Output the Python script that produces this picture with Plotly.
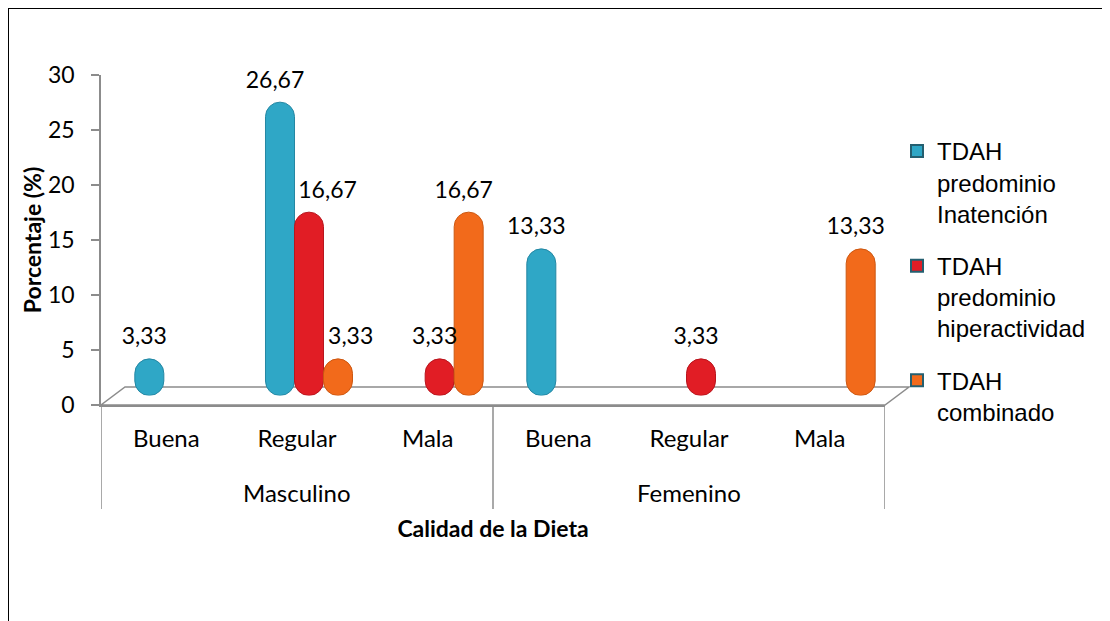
import plotly.graph_objects as go

# ---------------- data ----------------
genders = ["Masculino", "Femenino"]
dieta = ["Buena", "Regular", "Mala"]
series_names = [
    "TDAH<br>predominio<br>Inatención",
    "TDAH<br>predominio<br>hiperactividad",
    "TDAH<br>combinado",
]
inatencion = [3.33, 26.67, None, 13.33, None, None]
hiperactividad = [None, 16.67, 3.33, None, 3.33, None]
combinado = [None, 3.33, 16.67, None, None, 13.33]
y_ticks = [0, 5, 10, 15, 20, 25, 30]

series_values = [inatencion, hiperactividad, combinado]
colors = ["#2FA7C6", "#E11D25", "#F26A1B"]
edge_colors = ["#2587A3", "#B8161E", "#CC5812"]

outer = [g for g in genders for d in dieta]
inner = [d for g in genders for d in dieta]
n_cat = len(inner)

# label nudges (non-breaking-space padding), keyed by (series, point)
label_pad = {(1, 1): 8, (2, 1): 6}

# ---------------- layout geometry (screen pixels) ----------------
W, H = 1110, 621
PAGE_OFF = 8                        # default body margin of the html page
AX_L, AX_R, AX_T, AX_B = 101, 885, 75, 405
DEPTH_X, DEPTH_Y = 24, 18          # back edge of the floor
BAR_DX, BAR_DY = 12, 9.5           # bars at mid depth
LBL_DX, LBL_DY = 7, 16             # label plane
PLOT_R = AX_R + BAR_DX
PLOT_T = AX_T - LBL_DY
PW = PLOT_R - AX_L
PH = AX_B - PLOT_T


def xd(s):
    return [s / PW, (AX_R - AX_L + s) / PW]


def yd(s):
    return [s / PH, (AX_B - AX_T + s) / PH]


def xp(px):
    return (px - AX_L) / PW


def yp(py):
    return (AX_B - py) / PH


CAL = "Lato"
ARIAL = "Liberation Sans"
GREY = "#8C8C8C"


def fmt(v):
    return "" if v is None else f"{v:.2f}".replace(".", ",")


fig = go.Figure()

for i, (vals, col, ecol, name) in enumerate(
        zip(series_values, colors, edge_colors, series_names)):
    base = [None if v is None else 0 for v in vals]
    fig.add_trace(go.Bar(
        x=[outer, inner], y=vals, base=base, offsetgroup=str(i),
        marker=dict(color=col, cornerradius="50%",
                    line=dict(width=1, color=ecol)),
        showlegend=False, hoverinfo="skip", xaxis="x2", yaxis="y2",
    ))
    # legend entry
    fig.add_trace(go.Bar(
        x=[[outer[0]], [inner[0]]], y=[None], offsetgroup=str(i), name=name,
        legendgroup=str(i),
        marker=dict(color=col, line=dict(color="#245F70", width=2)),
        xaxis="x2", yaxis="y2",
    ))
    # data labels
    texts = []
    for j, v in enumerate(vals):
        t = fmt(v)
        if t and (i, j) in label_pad:
            t = "\u00a0" * label_pad[(i, j)] + t
        texts.append(t)
    fig.add_trace(go.Bar(
        x=[outer, inner], y=vals, text=texts, textposition="outside",
        constraintext="none", cliponaxis=False, offsetgroup=str(i),
        marker=dict(color="rgba(0,0,0,0)",
                    line=dict(width=0, color="rgba(0,0,0,0)")),
        textfont=dict(family=CAL, size=23, color="black"),
        showlegend=False, hoverinfo="skip", xaxis="x3", yaxis="y3",
    ))

shapes = [
    # outer frame
    dict(type="rect", xref="paper", yref="paper",
         x0=xp(8), x1=xp(1125), y0=yp(640), y1=yp(8),
         line=dict(color="black", width=2), layer="below"),
    # floor
    dict(type="path", xref="paper", yref="paper", layer="below",
         path=(f"M {xp(AX_L)},{yp(AX_B)} L {xp(AX_R)},{yp(AX_B)} "
               f"L {xp(AX_R + DEPTH_X)},{yp(AX_B - DEPTH_Y)} "
               f"L {xp(AX_L + DEPTH_X)},{yp(AX_B - DEPTH_Y)} Z"),
         line=dict(color=GREY, width=1.5)),
]
# group dividers of the two-level category axis
for k in range(len(genders) + 1):
    xb = k * len(dieta) - 0.5
    shapes.append(dict(type="line", xref="x", yref="paper", layer="below",
                       x0=xb, x1=xb, y0=yp(AX_B), y1=yp(509),
                       line=dict(color=GREY, width=1.5)))

annotations = []
for k, g in enumerate(genders):
    xc = k * len(dieta) + (len(dieta) - 1) / 2
    annotations.append(dict(x=xc, xref="x", y=yp(492), yref="paper",
                            text=g, showarrow=False, yanchor="middle",
                            font=dict(family=CAL, size=24, color="black")))

fig.update_layout(
    width=W, height=H,
    margin=dict(l=AX_L - PAGE_OFF, r=W - (PLOT_R - PAGE_OFF),
                t=PLOT_T - PAGE_OFF, b=H - (AX_B - PAGE_OFF), autoexpand=False),
    paper_bgcolor="white", plot_bgcolor="rgba(0,0,0,0)",
    barmode="group", bargap=0.334, bargroupgap=0,
    shapes=shapes, annotations=annotations,
    showlegend=True,
    legend=dict(
        x=xp(897), y=yp(129), xanchor="left", yanchor="top",
        font=dict(family=ARIAL, size=24, color="black"),
        traceorder="grouped", tracegroupgap=18, valign="top",
        bgcolor="rgba(0,0,0,0)",
    ),
    xaxis=dict(
        domain=xd(0), anchor="y", range=[-0.5, n_cat - 0.5],
        tickvals=list(range(n_cat)), ticktext=inner,
        showline=True, linecolor=GREY, linewidth=1.5, ticks="",
        ticklabelstandoff=11,
        tickfont=dict(family=CAL, size=24, color="black"),
        showgrid=False, zeroline=False,
        title=dict(text="<b>Calidad de la Dieta</b>",
                   font=dict(family=CAL, size=23, color="black"), standoff=70),
    ),
    yaxis=dict(
        domain=yd(0), anchor="x", range=[0, 30], tickvals=y_ticks,
        ticks="outside", ticklen=8, tickcolor=GREY, tickwidth=1.5,
        showline=True, linecolor=GREY, linewidth=1.5,
        showgrid=False, zeroline=False, ticklabelstandoff=12,
        tickfont=dict(family=CAL, size=23, color="black"),
        title=dict(text="<b>Porcentaje (%)</b>",
                   font=dict(family=CAL, size=23, color="black"), standoff=0),
    ),
    xaxis2=dict(domain=xd(BAR_DX), anchor="y2", type="multicategory",
                range=[-0.5, n_cat - 0.5], visible=False),
    yaxis2=dict(domain=yd(BAR_DY), anchor="x2", range=[0, 30], visible=False),
    xaxis3=dict(domain=xd(LBL_DX), anchor="y3", type="multicategory",
                range=[-0.5, n_cat - 0.5], visible=False),
    yaxis3=dict(domain=yd(LBL_DY), anchor="x3", range=[0, 30], visible=False),
)

fig.write_html("out.html")
